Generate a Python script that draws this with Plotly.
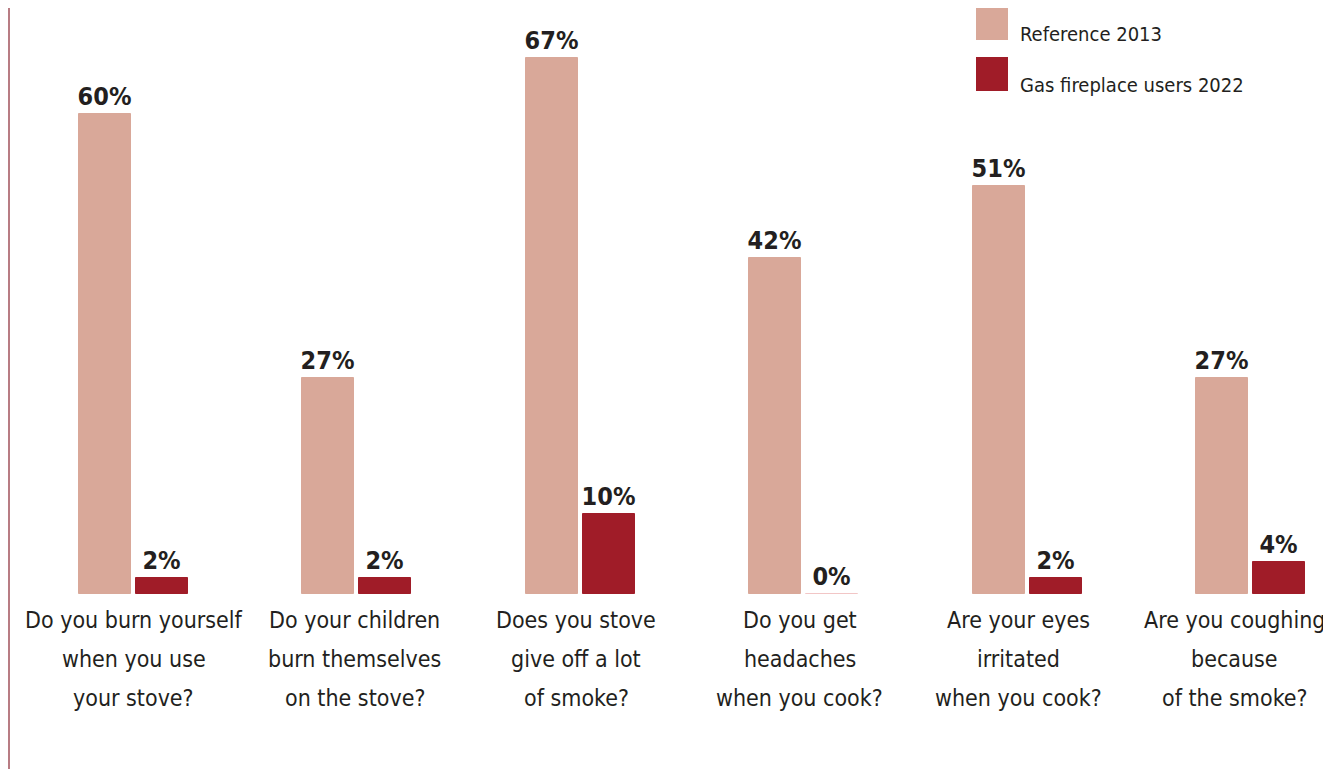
import plotly.graph_objects as go

categories = [
    "Do you burn yourself<br>when you use<br>your stove?",
    "Do your children<br>burn themselves<br>on the stove?",
    "Does you stove<br>give off a lot<br>of smoke?",
    "Do you get<br>headaches<br>when you cook?",
    "Are your eyes<br>irritated<br>when you cook?",
    "Are you coughing<br>because<br>of the smoke?",
]
ref_2013 = [60, 27, 67, 42, 51, 27]
gas_2022 = [2, 2, 10, 0, 2, 4]
series_names = ["Reference 2013", "Gas fireplace users 2022"]
colors = ["#D9A899", "#A01C28"]

# small horizontal nudges of the category labels (style, pixels)
label_nudge = [0, -2, -4, -4, -9, -16]

# page body has an 8px margin: figure pixel = screen pixel - 8
W, H = 1323, 761
FONT = "DejaVu Sans Condensed, DejaVu Sans, sans-serif"
TXT = "#231F20"
B = 175  # bottom margin px
PH = H - B

fig = go.Figure()
for vals, name, col, off in [(ref_2013, series_names[0], colors[0], -0.244),
                              (gas_2022, series_names[1], colors[1], 0.0112)]:
    fig.add_trace(go.Bar(
        x=categories, y=vals, name=name, marker_color=col,
        marker_line=dict(color=[("#F2C6C6" if v == 0 else col) for v in vals], width=1),
        width=0.233, offset=off,
        text=[f"{v}%" for v in vals], textposition="outside",
        constraintext="none",
        textfont=dict(family=FONT, size=25, color=TXT, weight="bold"),
        cliponaxis=False, showlegend=False,
    ))

# category labels, one annotation per line
for cat, nudge in zip(categories, label_nudge):
    for j, line in enumerate(cat.split("<br>")):
        fig.add_annotation(x=cat, xref="x", y=0, yref="paper", text=line,
                           showarrow=False, xanchor="center", yanchor="middle",
                           yshift=-(26 + 39 * j), xshift=nudge,
                           font=dict(family=FONT, size=23, color=TXT))

# manual legend
def py(pix):
    return (PH - pix) / PH

for i, (name, col) in enumerate(zip(series_names, colors)):
    top = -2 + i * 51
    fig.add_shape(type="rect", xref="paper", yref="paper",
                  x0=968 / W, x1=1000 / W, y0=py(top + 34), y1=py(top),
                  fillcolor=col, line_width=0)
    fig.add_annotation(xref="paper", yref="paper", x=1010 / W, y=py(top + 28),
                       text=name, showarrow=False, xanchor="left", yanchor="middle",
                       font=dict(family=FONT, size=20, color=TXT))

# left border line
fig.add_shape(type="line", xref="paper", yref="paper",
              x0=1 / W, x1=1 / W, y0=py(H), y1=py(-8),
              line=dict(color="#A0505A", width=1.5))

fig.update_layout(
    width=W, height=H, margin=dict(l=0, r=0, t=0, b=B),
    plot_bgcolor="white", paper_bgcolor="white",
    xaxis=dict(range=[-0.5618, 5.3603], showgrid=False, zeroline=False, showline=False,
               ticks="", showticklabels=False, automargin=False),
    yaxis=dict(range=[0, PH / 8.0], visible=False, showgrid=False, automargin=False),
    bargap=0,
)
fig.write_html("out.html")
